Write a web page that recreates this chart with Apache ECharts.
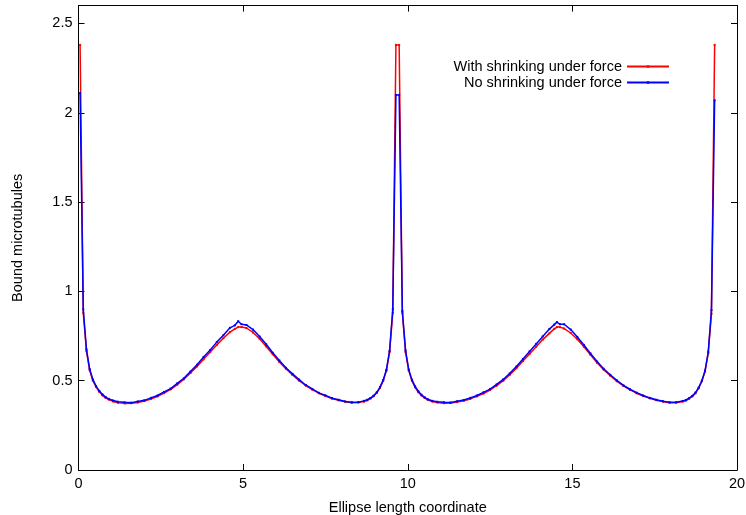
<!DOCTYPE html>
<html>
<head>
<meta charset="utf-8">
<script src="https://cdn.jsdelivr.net/npm/echarts@6/dist/echarts.min.js"></script>
<style>
html,body{margin:0;padding:0;background:#fff;}
#chart{width:746px;height:515px;}
</style>
</head>
<body>
<div id="chart"></div>
<script>
const seriesNames = ['With shrinking under force', 'No shrinking under force'];
const yTickValues = [0, 0.5, 1, 1.5, 2, 2.5];
const xs = [
0.048,0.145,0.242,0.339,0.436,0.533,0.630,0.727,0.824,0.921,
1.05,1.2,1.4,1.6,1.8,2.0,2.2,2.4,2.6,2.8,
3.0,3.2,3.4,3.6,3.8,4.0,4.2,4.4,4.6,4.75,
4.85,4.95,5.1,5.3,5.5,5.7,5.9,6.1,6.3,6.5,
6.7,6.9,7.1,7.3,7.5,7.7,7.9,8.1,8.3,8.5,
8.67,8.77,8.866,8.963,9.06,9.157,9.254,9.351,9.448,9.545,
9.641,9.739,9.836,9.933,10.03,10.126,10.223,10.32,10.417,10.514,
10.61,10.75,10.9,11.1,11.3,11.5,11.7,11.9,12.1,12.3,
12.5,12.7,12.9,13.1,13.3,13.5,13.7,13.9,14.1,14.3,
14.45,14.53,14.62,14.75,14.95,15.15,15.35,15.55,15.75,15.95,
16.15,16.35,16.55,16.75,16.95,17.15,17.35,17.55,17.75,17.95,
18.15,18.35,18.45,18.545,18.642,18.739,18.836,18.933,19.03,19.127,
19.224,19.321
];
const withShrinking = [
2.38,0.88,0.665,0.558,0.500,0.465,0.438,0.418,0.404,0.394,
0.384,0.377,0.373,0.374,0.378,0.386,0.397,0.412,0.430,0.452,
0.478,0.508,0.543,0.580,0.620,0.660,0.700,0.738,0.772,0.790,
0.800,0.800,0.795,0.770,0.735,0.692,0.648,0.605,0.567,0.532,
0.500,0.473,0.450,0.430,0.414,0.400,0.390,0.382,0.377,0.378,
0.383,0.390,0.400,0.413,0.432,0.460,0.500,0.555,0.660,0.880,
2.38,2.38,0.880,0.660,0.557,0.500,0.463,0.436,0.417,0.403,
0.392,0.383,0.378,0.374,0.375,0.380,0.387,0.398,0.412,0.428,
0.448,0.472,0.500,0.533,0.570,0.610,0.650,0.690,0.730,0.765,
0.790,0.800,0.800,0.792,0.767,0.732,0.690,0.645,0.600,0.562,
0.528,0.497,0.471,0.449,0.430,0.414,0.401,0.391,0.383,0.377,
0.377,0.383,0.389,0.399,0.412,0.430,0.458,0.497,0.552,0.655,
0.875,2.38
];
const noShrinking = [
2.11,0.90,0.675,0.565,0.507,0.470,0.443,0.423,0.408,0.398,
0.389,0.382,0.379,0.377,0.384,0.390,0.404,0.417,0.437,0.456,
0.485,0.513,0.551,0.589,0.633,0.672,0.716,0.754,0.796,0.810,
0.833,0.816,0.812,0.786,0.747,0.704,0.656,0.613,0.572,0.538,
0.506,0.476,0.454,0.432,0.418,0.402,0.393,0.384,0.379,0.380,
0.387,0.393,0.403,0.416,0.435,0.464,0.503,0.561,0.667,0.900,
2.10,2.10,0.890,0.670,0.562,0.506,0.468,0.441,0.421,0.407,
0.396,0.387,0.382,0.379,0.378,0.385,0.392,0.404,0.417,0.435,
0.453,0.479,0.507,0.541,0.579,0.621,0.664,0.706,0.748,0.789,
0.814,0.828,0.816,0.816,0.786,0.745,0.700,0.652,0.607,0.567,
0.533,0.502,0.474,0.452,0.433,0.417,0.404,0.393,0.385,0.379,
0.379,0.386,0.392,0.402,0.415,0.433,0.461,0.500,0.557,0.662,
0.895,2.07
];

const FONT = '"Liberation Sans", Arial, sans-serif';
const pair = (arr) => xs.map((x, i) => [x, arr[i]]);
const chart = echarts.init(document.getElementById('chart'), null, {renderer: 'canvas'});
const axisLineStyle = {color: '#000', width: 1};
chart.setOption({
  animation: false,
  backgroundColor: '#fff',
  textStyle: {fontFamily: FONT},
  grid: {left: 78.5, right: 9, top: 5.6, bottom: 45, containLabel: false, outerBoundsMode: 'none'},
  legend: {
    orient: 'vertical', align: 'right', right: 76, top: 59, padding: 0,
    itemWidth: 42, itemHeight: 3, itemGap: 1,
    textStyle: {fontSize: 14.5, color: '#000', fontFamily: FONT, lineHeight: 14},
    data: seriesNames
  },
  xAxis: [{
    type: 'value', min: 0, max: 20, interval: 5, position: 'bottom',
    name: 'Ellipse length coordinate', nameLocation: 'middle', nameGap: 30,
    nameTextStyle: {fontSize: 14.5, color: '#000', fontFamily: FONT},
    axisLine: {show: true, onZero: false, lineStyle: axisLineStyle},
    axisTick: {show: true, inside: true, length: 6, lineStyle: axisLineStyle},
    axisLabel: {fontSize: 14.5, color: '#000', margin: 6, fontFamily: FONT},
    splitLine: {show: false}
  }, {
    type: 'value', min: 0, max: 20, interval: 5, position: 'top',
    axisLine: {show: true, onZero: false, lineStyle: axisLineStyle},
    axisTick: {show: true, inside: true, length: 6, lineStyle: axisLineStyle},
    axisLabel: {show: false}, splitLine: {show: false}
  }],
  yAxis: [{
    type: 'value', min: 0, max: 2.6, position: 'left',
    name: 'Bound microtubules', nameLocation: 'middle', nameGap: 53, nameRotate: 90,
    nameTextStyle: {fontSize: 14.5, color: '#000', fontFamily: FONT},
    axisLine: {show: true, onZero: false, lineStyle: axisLineStyle},
    axisTick: {show: true, inside: true, length: 6, lineStyle: axisLineStyle, customValues: yTickValues},
    axisLabel: {fontSize: 14.5, color: '#000', margin: 6, fontFamily: FONT, customValues: yTickValues},
    splitLine: {show: false}
  }, {
    type: 'value', min: 0, max: 2.6, position: 'right',
    axisLine: {show: true, onZero: false, lineStyle: axisLineStyle},
    axisTick: {show: true, inside: true, length: 6, lineStyle: axisLineStyle, customValues: yTickValues},
    axisLabel: {show: false}, splitLine: {show: false}
  }],
  series: [{
    name: seriesNames[0], type: 'line', data: pair(withShrinking),
    xAxisIndex: 0, yAxisIndex: 0,
    color: '#ff0000', lineStyle: {color: '#ff0000', width: 1.5},
    symbol: 'rect', symbolSize: 2, showSymbol: true, showAllSymbol: true,
    itemStyle: {color: '#ff0000'}, z: 2
  }, {
    name: seriesNames[1], type: 'line', data: pair(noShrinking),
    xAxisIndex: 0, yAxisIndex: 0,
    color: '#0000ff', lineStyle: {color: '#0000ff', width: 1.5},
    symbol: 'rect', symbolSize: 2, showSymbol: true, showAllSymbol: true,
    itemStyle: {color: '#0000ff'}, z: 3
  }]
});
</script>
</body>
</html>
